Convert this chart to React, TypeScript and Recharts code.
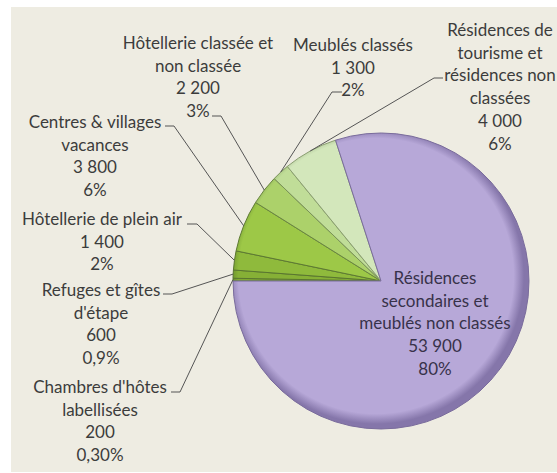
import React from "react";
import { PieChart, Pie, Cell } from "recharts";

// ---- data ----
const categories = [
  "Chambres d'hôtes\nlabellisées",
  "Refuges et gîtes\nd'étape",
  "Hôtellerie de plein air",
  "Centres & villages\nvacances",
  "Hôtellerie classée et\nnon classée",
  "Meublés classés",
  "Résidences de\ntourisme et\nrésidences non\nclassées",
  "Résidences\nsecondaires et\nmeublés non classés",
];
const beds = [200, 600, 1400, 3800, 2200, 1300, 4000, 53900];
const percentLabels = ["0,30%", "0,9%", "2%", "6%", "3%", "2%", "6%", "80%"];

// ---- styles / layout ----
const baseColors = ["#7FA832", "#86B036", "#8FBA3C", "#9DC847", "#ACD16A", "#C0DD98", "#D3E7BB", "#B7A8D8"];
const rimColors = ["#5C7E22", "#618426", "#688C2A", "#729833", "#7EA04C", "#8FAD6C", "#A1B98A", "#8576AA"];
const strokeColors = ["#5A7630", "#5A7630", "#5A7630", "#5E7A33", "#6A8542", "#7A9258", "#8A9E70", "#7A6C9C"];

const CX = 376;
const CY = 276;
const R = 148;
const LINE = 22.7;
const FONT = "Lato, 'Open Sans', sans-serif";
const FONT_SIZE = 17;

// label block: centre x, first line centre y, hook (text-side x, line-side x, y)
const labelLayout: { x: number; y: number; hook?: [number, number, number]; color?: string }[] = [
  { x: 100, y: 387, hook: [171, 180, 392] },
  { x: 101, y: 290, hook: [163, 172, 294] },
  { x: 102, y: 219, hook: [187, 197, 224] },
  { x: 95, y: 122, hook: [165, 174, 126] },
  { x: 198, y: 43, hook: [212, 221, 116] },
  { x: 353, y: 45, hook: [342, 332, 92] },
  { x: 500, y: 30, hook: [443, 434, 78] },
  { x: 435, y: 278, color: "#37324A" },
];

const data = categories.map((name, i) => ({ name, value: beds[i] }));

const formatNumber = (v: number) => String(v).replace(/\B(?=(\d{3})+(?!\d))/g, " ");

const RADIAN = Math.PI / 180;

function renderLabel(props: any) {
  const { cx, cy, midAngle, outerRadius, index } = props;
  const lay = labelLayout[index];
  const lines = [...categories[index].split("\n"), formatNumber(beds[index]), percentLabels[index]];
  const ex = cx + outerRadius * Math.cos(-midAngle * RADIAN);
  const ey = cy + outerRadius * Math.sin(-midAngle * RADIAN);
  return (
    <g key={`lbl-${index}`}>
      {lay.hook && (
        <polyline
          points={`${lay.hook[0]},${lay.hook[2]} ${lay.hook[1]},${lay.hook[2]} ${ex},${ey}`}
          fill="none"
          stroke="#555555"
          strokeWidth={1}
        />
      )}
      <text
        x={lay.x}
        y={lay.y}
        textAnchor="middle"
        fontFamily={FONT}
        fontSize={FONT_SIZE}
        fill={lay.color || "#3C3C3C"}
      >
        {lines.map((l, i) => (
          <tspan key={i} x={lay.x} y={lay.y + i * LINE + 6}>
            {l}
          </tspan>
        ))}
      </text>
    </g>
  );
}

export default function App() {
  return (
    <div style={{ position: "absolute", left: 0, top: 0, width: 557, height: 473, background: "#ffffff" }}>
      <div
        style={{
          position: "absolute",
          left: 11,
          top: 7,
          width: 546,
          height: 465,
          background: "#EEECE2",
        }}
      />
      <div style={{ position: "absolute", left: 0, top: 0 }}>
        <PieChart width={557} height={473}>
          <defs>
            {baseColors.map((c, i) => (
              <radialGradient key={i} id={`grad${i}`} gradientUnits="userSpaceOnUse" cx={CX} cy={CY} r={R}>
                <stop offset="0%" stopColor={c} />
                <stop offset="93%" stopColor={c} />
                <stop offset="100%" stopColor={rimColors[i]} />
              </radialGradient>
            ))}
          </defs>
          <Pie
            data={data}
            dataKey="value"
            nameKey="name"
            cx={CX}
            cy={CY}
            outerRadius={R}
            startAngle={180}
            endAngle={-180}
            isAnimationActive={false}
            label={renderLabel}
            labelLine={false}
          >
            {data.map((_, i) => (
              <Cell key={i} fill={`url(#grad${i})`} stroke={strokeColors[i]} strokeWidth={1} />
            ))}
          </Pie>
        </PieChart>
      </div>
    </div>
  );
}
